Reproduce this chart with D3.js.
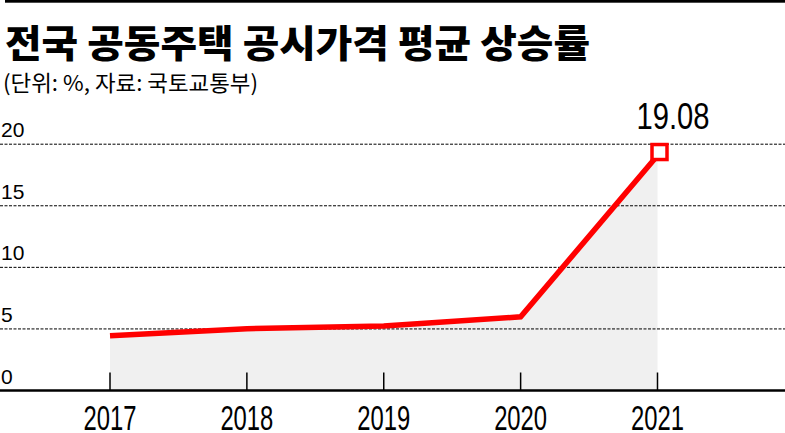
<!DOCTYPE html>
<html><head><meta charset="utf-8">
<script src="https://cdn.jsdelivr.net/npm/d3@7"></script>
<style>
html,body{margin:0;padding:0;background:#fff;}
svg{display:block;}
</style></head>
<body>
<svg id="c" width="785" height="433"></svg>
<script>
const years = ["2017","2018","2019","2020","2021"];
const values = [4.44, 5.02, 5.24, 5.98, 19.08];
const yTicks = [0, 5, 10, 15, 20];
const title = "전국 공동주택 공시가격 평균 상승률";
const subtitle = "(단위: %, 자료: 국토교통부)";
const highlightLabel = "19.08";

const W = 785, H = 433;
const svg = d3.select("#c");
const x = d3.scalePoint().domain(years).range([110, 657.5]);
const y = d3.scaleLinear().domain([0, 20]).range([390.5, 144.2]);

// top bar
svg.append("rect").attr("x", 5).attr("y", 0).attr("width", W - 5).attr("height", 2.7).attr("fill", "#000");

// title
svg.append("text").attr("x", 5).attr("y", 57)
  .attr("font-family", "'Noto Sans CJK KR', sans-serif").attr("font-weight", 900)
  .attr("font-size", 38).attr("textLength", 585).attr("lengthAdjust", "spacingAndGlyphs")
  .attr("fill", "#000").text(title);
svg.append("text").attr("x", 3).attr("y", 91)
  .attr("font-family", "'Noto Sans CJK KR', sans-serif").attr("font-weight", 400)
  .attr("font-size", 22).attr("textLength", 255).attr("lengthAdjust", "spacingAndGlyphs")
  .attr("fill", "#000").text(subtitle);

// area
const data = years.map((d, i) => ({year: d, v: values[i]}));
svg.append("path").datum(data)
  .attr("d", d3.area().x(d => x(d.year)).y0(y(0)).y1(d => y(d.v)))
  .attr("fill", "#f0f0f0");

// grid lines
svg.append("g").selectAll("line").data(yTicks.filter(t => t > 0)).join("line")
  .attr("x1", 0).attr("x2", W).attr("y1", d => y(d)).attr("y2", d => y(d))
  .attr("stroke", "#000").attr("stroke-width", 1).attr("stroke-dasharray", "3,1.5");

// y labels
svg.append("g").selectAll("text").data(yTicks).join("text")
  .attr("x", 1).attr("y", d => y(d) - 7)
  .attr("font-family", "'Liberation Sans', Arial, sans-serif").attr("font-size", 21)
  .attr("fill", "#000").text(d => d);

// baseline
svg.append("line").attr("x1", 0).attr("x2", W).attr("y1", y(0)).attr("y2", y(0))
  .attr("stroke", "#000").attr("stroke-width", 2.5);

// ticks
svg.append("g").selectAll("line").data(years).join("line")
  .attr("x1", d => x(d)).attr("x2", d => x(d)).attr("y1", y(0)).attr("y2", y(0) - 18)
  .attr("stroke", "#000").attr("stroke-width", 1.5);

// x labels
svg.append("g").selectAll("text").data(years).join("text")
  .attr("x", d => x(d) - 26.5).attr("y", 429.5)
  .attr("font-family", "'Liberation Sans', Arial, sans-serif").attr("font-size", 35)
  .attr("textLength", 53).attr("lengthAdjust", "spacingAndGlyphs")
  .attr("fill", "#000").text(d => d);

// line
svg.append("path").datum(data)
  .attr("d", d3.line().x(d => x(d.year)).y(d => y(d.v)))
  .attr("fill", "none").attr("stroke", "#ff0000").attr("stroke-width", 5.5)
  .attr("stroke-linejoin", "miter");

// marker
const last = data[data.length - 1];
const mx = x(last.year) + 2, my = y(last.v) - 3.5;
svg.append("rect").attr("x", mx - 7.5).attr("y", my - 7.5).attr("width", 15).attr("height", 15)
  .attr("fill", "#fff").attr("stroke", "#ff0000").attr("stroke-width", 3.5);

svg.append("text").attr("x", mx + 13.5 - 36.5).attr("y", 129)
  .attr("font-family", "'Liberation Sans', Arial, sans-serif").attr("font-size", 36)
  .attr("textLength", 73).attr("lengthAdjust", "spacingAndGlyphs")
  .attr("fill", "#000").text(highlightLabel);
</script>
</body></html>
